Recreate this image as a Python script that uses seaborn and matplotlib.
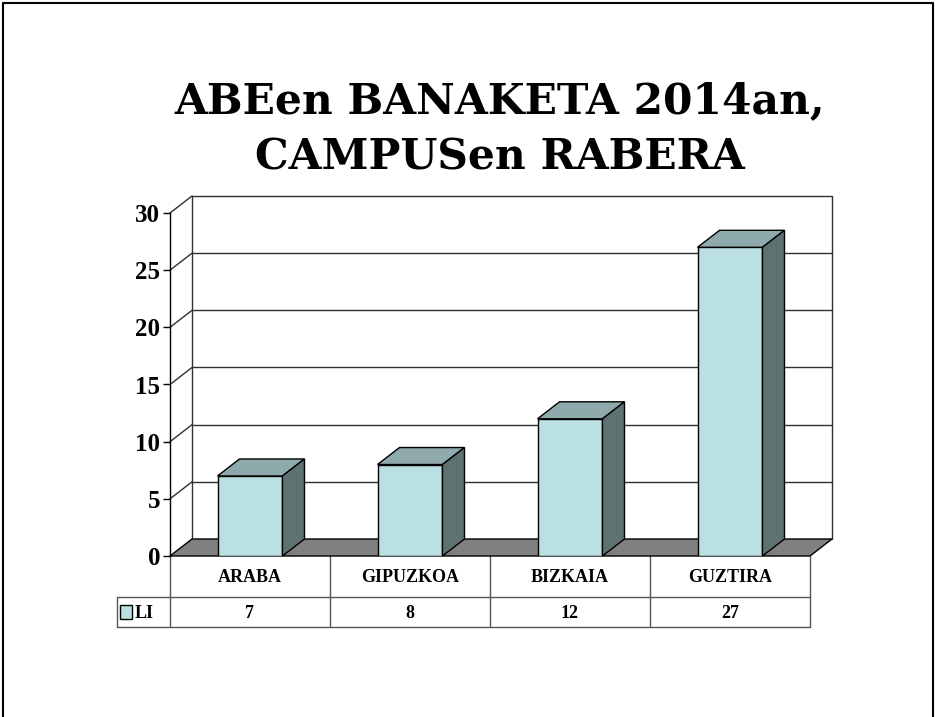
import matplotlib
matplotlib.use("Agg")
import matplotlib.pyplot as plt
import seaborn as sns
import pandas as pd
from matplotlib.patches import Polygon, Rectangle
from matplotlib.lines import Line2D

# ---- data ----
campuses = ["ARABA", "GIPUZKOA", "BIZKAIA", "GUZTIRA"]
li_counts = [7, 8, 12, 27]
series_name = "LI"
title_lines = ["ABEen BANAKETA 2014an,", "CAMPUSen RABERA"]
y_ticks = [0, 5, 10, 15, 20, 25, 30]

# ---- colours ----
FRONT = "#BBE0E3"
TOP = "#8FAAAC"
SIDE = "#5F7272"
FLOOR = "#808080"
GRID = "#303030"
TABLE = "#555555"

sns.set_theme(style="white")
plt.rcParams["font.family"] = ["Liberation Serif", "DejaVu Serif"]
plt.rcParams["text.color"] = "black"

W, H = 936, 717
fig = plt.figure(figsize=(W / 100, H / 100), dpi=100)


def fx(px):
    return px / W


def fy(py):
    return 1 - py / H


# front plane of the 3-D box
X0, X1, Y0, Y1 = 170, 810, 556, 213
ax = fig.add_axes([fx(X0), fy(Y0), fx(X1) - fx(X0), fy(Y1) - fy(Y0)])
ax.set_facecolor("none")

df = pd.DataFrame({"campus": campuses, "n": li_counts})
sns.barplot(data=df, x="campus", y="n", color=FRONT, saturation=1,
            width=0.406, edgecolor="black", linewidth=1, ax=ax, zorder=6)
ax.set_xlim(-0.5, len(campuses) - 0.5)
ax.set_ylim(y_ticks[0], y_ticks[-1])

# depth offset of the box, expressed in data units
px_x = (X1 - X0) / len(campuses)
px_y = (Y0 - Y1) / (y_ticks[-1] - y_ticks[0])
DX = 22 / px_x
DY = 17 / px_y
xl, xr = ax.get_xlim()
ytop = y_ticks[-1]

# floor
ax.add_patch(Polygon([(xl, 0), (xr, 0), (xr + DX, DY), (xl + DX, DY)],
                     closed=True, facecolor=FLOOR, edgecolor="black",
                     linewidth=1, zorder=3, clip_on=False))

# back wall gridlines + side-wall diagonals
for t in y_ticks[1:]:
    ax.add_line(Line2D([xl + DX, xr + DX], [t + DY, t + DY], color=GRID,
                       lw=1, zorder=2, clip_on=False))
    ax.add_line(Line2D([xl, xl + DX], [t, t + DY], color=GRID,
                       lw=1, zorder=2, clip_on=False))
for xv in (xl + DX, xr + DX):
    ax.add_line(Line2D([xv, xv], [DY, ytop + DY], color=GRID, lw=1,
                       zorder=2, clip_on=False))

# top and side faces of each bar
for bar in ax.patches[:]:
    if not isinstance(bar, Rectangle):
        continue
    bx0 = bar.get_x()
    bx1 = bx0 + bar.get_width()
    h = bar.get_height()
    ax.add_patch(Polygon([(bx0, h), (bx1, h), (bx1 + DX, h + DY), (bx0 + DX, h + DY)],
                         closed=True, facecolor=TOP, edgecolor="black",
                         linewidth=1, zorder=7, clip_on=False))
    ax.add_patch(Polygon([(bx1, 0), (bx1 + DX, DY), (bx1 + DX, h + DY), (bx1, h)],
                         closed=True, facecolor=SIDE, edgecolor="black",
                         linewidth=1, zorder=7, clip_on=False))

# axes styling
for s in ("top", "right", "bottom"):
    ax.spines[s].set_visible(False)
ax.spines["left"].set_color("black")
ax.spines["left"].set_linewidth(1)
ax.set_yticks(y_ticks)
ax.tick_params(axis="y", left=True, direction="out", length=5, width=1,
               color="black", labelcolor="black", labelsize=18, pad=2)
for lab in ax.get_yticklabels():
    lab.set_fontweight("bold")
ax.set_xticks([])
ax.set_xlabel("")
ax.set_ylabel("")

# ---- data table under the chart ----
tr = ax.get_xaxis_transform()


def ay(py):
    return (Y0 - py) / (Y0 - Y1)


ROW1, ROW2 = 597, 627
LEG_L = xl - (X0 - 117) / px_x
for py, x_start in ((ROW1, LEG_L), (ROW2, LEG_L)):
    ax.add_line(Line2D([x_start, xr], [ay(py), ay(py)], transform=tr,
                       color=TABLE, lw=1, clip_on=False))
for k in range(len(campuses) + 1):
    xv = xl + k
    ax.add_line(Line2D([xv, xv], [ay(Y0), ay(ROW2)], transform=tr,
                       color=TABLE, lw=1, clip_on=False))
ax.add_line(Line2D([LEG_L, LEG_L], [ay(ROW1), ay(ROW2)], transform=tr,
                   color=TABLE, lw=1, clip_on=False))

for i, (name, val) in enumerate(zip(campuses, li_counts)):
    ax.text(i, ay((Y0 + ROW1) / 2 + 1), name, transform=tr, ha="center",
            va="center", fontsize=13, fontweight="bold", color="black")
    ax.text(i, ay((ROW1 + ROW2) / 2 + 1), str(val), transform=tr, ha="center",
            va="center", fontsize=13, fontweight="bold", color="black")

# legend key inside the table
fig.patches.append(Rectangle((fx(120), fy(619)), fx(132) - fx(120), fy(605) - fy(619),
                             transform=fig.transFigure, facecolor=FRONT,
                             edgecolor="black", linewidth=1))
fig.text(fx(135), fy(613), series_name, ha="left", va="center",
         fontsize=13, fontweight="bold", color="black")

# ---- title ----
fig.text(fx(500), fy(101), title_lines[0], ha="center", va="center",
         fontsize=30.5, fontweight="bold", family="DejaVu Serif", color="black")
fig.text(fx(500), fy(158), title_lines[1], ha="center", va="center",
         fontsize=30.5, fontweight="bold", family="DejaVu Serif", color="black")

# ---- outer frame ----
for xs, ys in (([3, 3], [3, H]), ([3, 933], [3, 3]), ([933, 933], [3, H])):
    fig.add_artist(Line2D([fx(v) for v in xs], [fy(v) for v in ys],
                          transform=fig.transFigure, color="black", lw=1.5))

fig.savefig("out.png", dpi=100)
